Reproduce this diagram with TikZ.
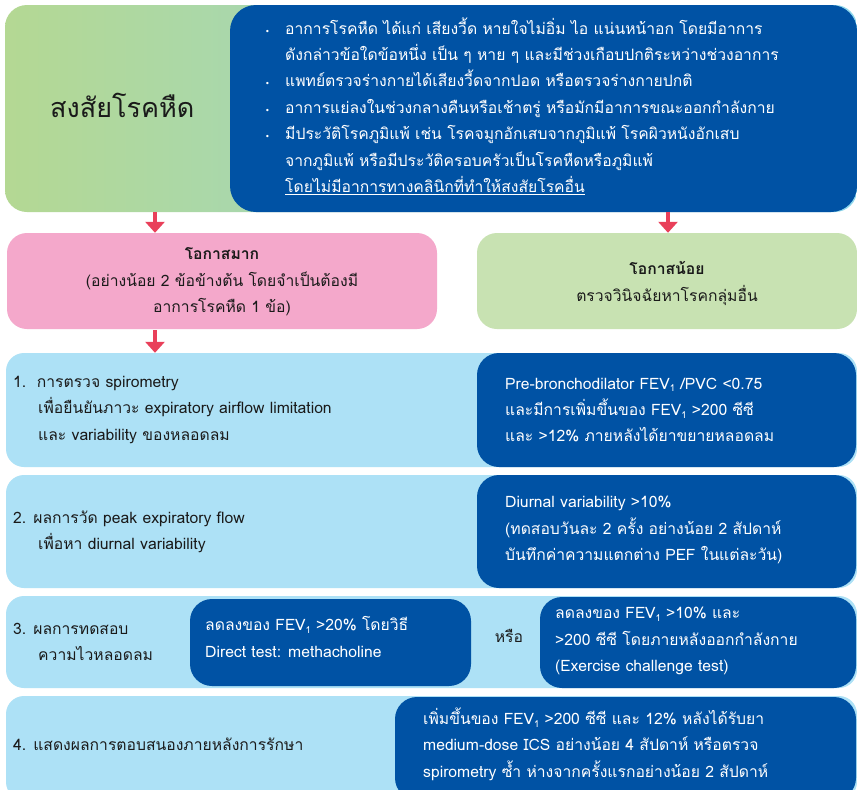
\documentclass[tikz,border=0pt]{standalone}
\usepackage{fontspec}
\setmainfont[Script=Thai]{Loma}
\newfontfamily\dejavu{DejaVu Sans}
\usetikzlibrary{arrows.meta}
\definecolor{darkblue}{HTML}{0052A4}
\definecolor{lightblue}{HTML}{ADE1F6}
\definecolor{pinkbox}{HTML}{F4A8CB}
\definecolor{greenbox}{HTML}{C8E2B2}
\definecolor{arrowred}{HTML}{E9405A}
\definecolor{gradL}{HTML}{B4D893}
\definecolor{gradR}{HTML}{8DD6EC}
\definecolor{ink}{HTML}{1A1A1A}
\newcommand\lowone{\raisebox{-0.35ex}{\fontsize{9.5}{9.5}\selectfont 1}}
\newcommand\bul{\makebox[20pt][l]{\dejavu\fontsize{8}{8}\selectfont •}}
\newcommand\ind{\hspace*{20pt}}
\begin{document}
\begin{tikzpicture}[x=1pt,y=-1pt,
  lbox/.style={fill=lightblue, rounded corners=18pt, inner sep=0pt, draw=none},
  dbox/.style={fill=darkblue, rounded corners=22pt, inner sep=0pt, draw=none},
  txt/.style={align=left, inner sep=0pt, text=ink, font=\fontsize{15.7}{26.4}\selectfont, anchor=west},
  wtxt/.style={txt, text=white},
  ctxt/.style={txt, align=center, anchor=center},
  redarrow/.style={draw=arrowred, line width=4.5pt, -{Triangle[width=19pt,length=11pt]}}]
\useasboundingbox (0,0) rectangle (857,790);
\fill[white] (0,0) rectangle (857,790);
% top
\node[minimum width=852pt, minimum height=207pt, inner sep=0pt, rounded corners=22pt, left color=gradL, right color=gradR] (sus) at (431,108.5) {};
\node[dbox, minimum width=627pt, minimum height=207pt, rounded corners=26pt] (susd) at (543.5,108.5) {};
\node[txt, font=\fontsize{27}{30}\selectfont] (t0) at (50,105) {สงสัยโรคหืด};
\node[wtxt] (tb) at (265,106) {\bul อาการโรคหืด ได้แก่ เสียงวี้ด หายใจไม่อิ่ม ไอ แน่นหน้าอก โดยมีอาการ\\
\ind ดังกล่าวข้อใดข้อหนึ่ง เป็น ๆ หาย ๆ และมีช่วงเกือบปกติระหว่างช่วงอาการ\\
\bul แพทย์ตรวจร่างกายได้เสียงวี้ดจากปอด หรือตรวจร่างกายปกติ\\
\bul อาการแย่ลงในช่วงกลางคืนหรือเช้าตรู่ หรือมักมีอาการขณะออกกำลังกาย\\
\bul มีประวัติโรคภูมิแพ้ เช่น โรคจมูกอักเสบจากภูมิแพ้ โรคผิวหนังอักเสบ\\
\ind จากภูมิแพ้ หรือมีประวัติครอบครัวเป็นโรคหืดหรือภูมิแพ้\\
\ind \underline{โดยไม่มีอาการทางคลินิกที่ทำให้สงสัยโรคอื่น}};
% second level
\node[fill=pinkbox, rounded corners=20pt, minimum width=430pt, minimum height=96pt, inner sep=0pt] (pink) at (222,281) {};
\node[fill=greenbox, rounded corners=20pt, minimum width=380pt, minimum height=96pt, inner sep=0pt] (green) at (667,281) {};
\node[ctxt] (tp) at (222,282) {{\bfseries โอกาสมาก}\\(อย่างน้อย 2 ข้อข้างต้น โดยจำเป็นต้องมี\\อาการโรคหืด 1 ข้อ)};
\node[ctxt] (tg) at (667,283.5) {{\bfseries โอกาสน้อย}\\ตรวจวินิจฉัยหาโรคกลุ่มอื่น};
\coordinate (a1) at (155,212);
\coordinate (a2) at (668,212);
\coordinate (a3) at (155,330);
\draw[redarrow] (a1) -- (a1 |- pink.north);
\draw[redarrow] (a2) -- (a2 |- green.north);
% row 1
\node[lbox, minimum width=851pt, minimum height=114pt] (r1) at (431.5,410) {};
\node[dbox, minimum width=379pt, minimum height=114pt] (r1d) at (666.5,410) {};
\draw[redarrow] (a3) -- (a3 |- r1.north);
\node[txt] (t1) at (13,410) {1.\ \ การตรวจ spirometry\\\hspace*{25pt}เพื่อยืนยันภาวะ expiratory airflow limitation\\\hspace*{25pt}และ variability ของหลอดลม};
\node[wtxt] (t1d) at (505,410) {Pre-bronchodilator FEV\lowone\ /PVC <0.75\\และมีการเพิ่มขึ้นของ FEV\lowone\ >200 ซีซี\\และ >12\% ภายหลังได้ยาขยายหลอดลม};
% row 2
\node[lbox, minimum width=851pt, minimum height=113pt] (r2) at (431.5,531.5) {};
\node[dbox, minimum width=379pt, minimum height=113pt] (r2d) at (666.5,531.5) {};
\node[txt] (t2) at (13,532) {2. ผลการวัด peak expiratory flow\\\hspace*{25pt}เพื่อหา diurnal variability};
\node[wtxt] (t2d) at (505,530) {Diurnal variability >10\%\\(ทดสอบวันละ 2 ครั้ง อย่างน้อย 2 สัปดาห์\\บันทึกค่าความแตกต่าง PEF ในแต่ละวัน)};
% row 3
\node[lbox, minimum width=851pt, minimum height=92pt] (r3) at (431.5,642) {};
\node[dbox, minimum width=281pt, minimum height=87pt] (r3a) at (330.5,642.5) {};
\node[dbox, minimum width=316pt, minimum height=91pt] (r3b) at (698,642.5) {};
\node[txt] (t3) at (13,642) {3. ผลการทดสอบ\\\hspace*{25pt}ความไวหลอดลม};
\node[wtxt] (t3a) at (205,637) {ลดลงของ FEV\lowone\ >20\% โดยวิธี\\Direct test: methacholine};
\node[txt, anchor=center] (or) at (509,636) {หรือ};
\node[wtxt] (t3b) at (555,641) {ลดลงของ FEV\lowone\ >10\% และ\\>200 ซีซี โดยภายหลังออกกำลังกาย\\(Exercise challenge test)};
% row 4
\node[lbox, minimum width=851pt, minimum height=104pt] (r4) at (431.5,748) {};
\node[dbox, minimum width=461pt, minimum height=103pt] (r4d) at (625.5,748.5) {};
\node[txt] (t4) at (13,744) {4. แสดงผลการตอบสนองภายหลังการรักษา};
\node[wtxt] (t4d) at (423,744) {เพิ่มขึ้นของ FEV\lowone\ >200 ซีซี และ 12\% หลังได้รับยา\\medium-dose ICS อย่างน้อย 4 สัปดาห์ หรือตรวจ\\spirometry ซ้ำ ห่างจากครั้งแรกอย่างน้อย 2 สัปดาห์};
\end{tikzpicture}
\end{document}
